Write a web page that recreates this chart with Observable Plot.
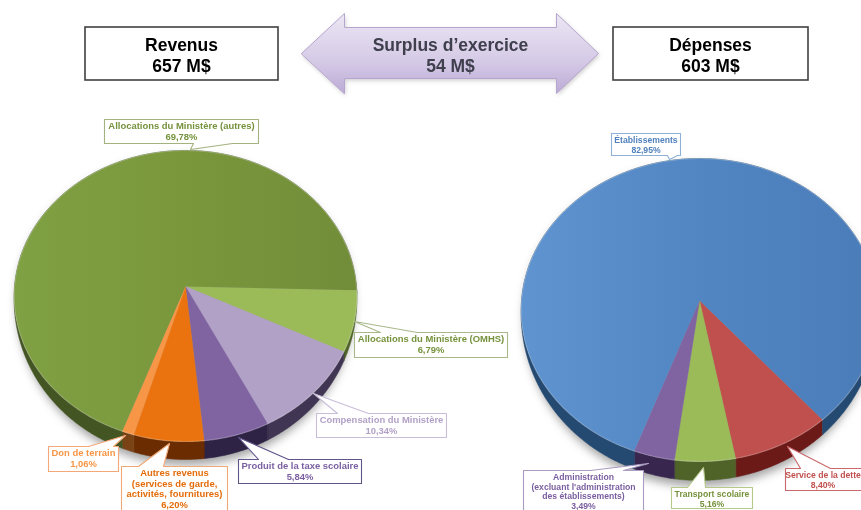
<!DOCTYPE html>
<html lang="fr"><head><meta charset="utf-8">
<script src="https://cdn.jsdelivr.net/npm/d3@7"></script>
<script src="https://cdn.jsdelivr.net/npm/@observablehq/plot@0.6"></script>
<style>html,body{margin:0;padding:0;background:#fff;overflow:hidden}svg{display:block}</style>
</head><body><div id="chart"></div>
<script>
// ---------- data ----------
const revenueCategories = ["Allocations du Ministère (OMHS)","Compensation du Ministère","Produit de la taxe scolaire","Autres revenus\n(services de garde,\nactivités, fournitures)","Don de terrain","Allocations du Ministère (autres)"];
const revenueValues = [6.79,10.34,5.84,6.20,1.06,69.78];
const expenseCategories = ["Service de la dette","Transport scolaire","Administration\n(excluant l'administration\ndes établissements)","Établissements"];
const expenseValues = [8.40,5.16,3.49,82.95];
const headerTitles = ["Revenus","Surplus d’exercice","Dépenses"];
const headerAmounts = ["657 M$","54 M$","603 M$"];

// ---------- styles ----------
const revenueFaces = ["#9bbb59","#b2a1c7","#8064a2","#ea730f","#f79646","url(#gGreen)"];
const revenueSides = ["#4f6228","#403552","#2f2345","#6a2c00","#7a4316","#435522"];
const revenueText  = ["#76923c","#b2a1c7","#7a5fa0","#e46c0a","#f79646","#76923c"];
const revenueEdge  = ["#a9b88a","#c9bdd9","#60548a","#f0a877","#f4a878","#a3b27e"];
const expenseFaces = ["#c0504d","#9bbb59","#8064a2","url(#gBlue)"];
const expenseSides = ["#6b1a18","#4f6228","#38264f","#244a72"];
const expenseText  = ["#c0504d","#76923c","#7a5fa0","#4f81bd"];
const expenseEdge  = ["#c9686a","#b5c98a","#a99cc0","#8fb0d8"];

// ---------- layout ----------
const leftPie  = {cx:185, cy:286, R:171, B:144.9, k:0.0653, start:91.5,  depth:18};
const rightPie = {cx:699, cy:300, R:178, B:150.9, k:0.0627, start:138.8, depth:19};
// each label: box [x0,y0,x1,y1], pointer [tipX,tipY,baseX0,baseX1]
const revenueLayout = [
 {box:[354,332,507,357], ptr:[354,321,380,417], edge:"top"},
 {box:[316,413,446,437], ptr:[313,393,337,368], edge:"top"},
 {box:[238,459,361,483], ptr:[238,437,258,288], edge:"top"},
 {box:[121,466,227,516], ptr:[169,443,138,163], edge:"top"},
 {box:[48,446,118,471],  ptr:[125,435,88,113],  edge:"top"},
 {box:[104,119,258,143], ptr:[190,149,193,232], edge:"bottom"}];
const expenseLayout = [
 {box:[785,468,880,490], ptr:[787,446,800,830], edge:"top", tx:822.5},
 {box:[671,487,752,508], ptr:[703,467,687,705], edge:"top"},
 {box:[523,470,643,516], ptr:[648,463,590,623], edge:"top"},
 {box:[611,133,680,155], ptr:[669,159,667,677], edge:"bottom"}];
const fmt = v => v.toFixed(2).replace(".", ",") + "%";
const rad = d3.scaleLinear().domain([0,360]).range([0,2*Math.PI]);

function project(p, deg, depth = 0) {
  const a = rad(deg), u = Math.sin(a), v = -Math.cos(a), w = 1 - p.k * v;
  const f = v >= 0 ? 0.15 + 0.85 * v : 0.15 * Math.max(0, 1 + 4 * v);
  return {x: p.cx + p.R * u / w, y: p.cy + p.B * v / w + depth * f};
}
function wedges(p, values) {
  const total = d3.sum(values); let a = p.start; const out = [];
  for (const v of values) { const b = a + v / total * 360; out.push([a, b]); a = b; }
  return out;
}
function arc(p, a0, a1, depth = 0) {
  const n = Math.max(2, Math.ceil((a1 - a0) * 2)), pts = [];
  for (let i = 0; i <= n; i++) pts.push(project(p, a0 + (a1 - a0) * i / n, depth));
  return pts;
}
const poly = (pts, o) => Plot.line(pts, {x:"x", y:"y", curve:"linear-closed", stroke:"none", ...o});

function pieMarks(p, values, faces, sides) {
  const ws = wedges(p, values), m = [];
  const sh = {...p, R:p.R - 3, B:p.B - 3, cy:p.cy + 3};
  m.push(poly(arc(sh, 0, 360, p.depth + 6), {fill:"#555", fillOpacity:0.55, imageFilter:"blur(5px)"}));
  ws.forEach(([a,b],i) => m.push(poly([...arc(p,a,b), ...arc(p,a,b,p.depth).reverse()], {fill:sides[i], stroke:sides[i], strokeWidth:0.5})));
  ws.forEach(([a,b],i) => m.push(poly([{x:p.cx,y:p.cy}, ...arc(p,a,b)], {fill:faces[i], stroke:faces[i].startsWith("url")?"none":faces[i], strokeWidth:0.4})));
  ws.forEach(([a,b]) => m.push(Plot.line(arc(p,a,b), {x:"x", y:"y", stroke:"#fff", strokeOpacity:0.22, strokeWidth:1.2})));
  return m;
}
function labelMarks(cats, values, layout, text, edge, size, leading) {
  const m = [];
  layout.forEach((l,i) => {
    const [x0,y0,x1,y1] = l.box, [tx,ty,b0,b1] = l.ptr;
    const pts = l.edge === "top"
      ? [{x:x0,y:y0},{x:b0,y:y0},{x:tx,y:ty},{x:b1,y:y0},{x:x1,y:y0},{x:x1,y:y1},{x:x0,y:y1}]
      : [{x:x0,y:y0},{x:x1,y:y0},{x:x1,y:y1},{x:b1,y:y1},{x:tx,y:ty},{x:b0,y:y1},{x:x0,y:y1}];
    m.push(poly(pts, {fill:"#fff", stroke:edge[i], strokeWidth:1.1}));
    const cx = l.tx ?? (x0 + x1) / 2;
    m.push(Plot.text([cats[i] + "\n" + fmt(values[i])], {x:()=>cx, y:()=>y0 + 2.3, text:d=>d, lineAnchor:"top", lineHeight:leading, fontSize:size, fontWeight:"bold", fontFamily:"Liberation Sans", fill:text[i], textAnchor:"middle", imageFilter:"blur(0.25px)"}));
  });
  return m;
}
const defs = () => {
  const s = d3.create("svg:defs");
  const add = (id, x1, x2, y1, y2, stops) => {
    const g = s.append("linearGradient").attr("id",id).attr("x1",x1).attr("x2",x2).attr("y1",y1).attr("y2",y2);
    stops.forEach(([o,c]) => g.append("stop").attr("offset",o).attr("stop-color",c));
  };
  add("gGreen","0","1","0","0",[[0,"#80a044"],[0.5,"#7a973c"],[1,"#728d39"]]);
  add("gBlue","0","1","0","0",[[0,"#6094d0"],[0.5,"#5186c3"],[1,"#4a7cb8"]]);
  add("gArrow","0","0","0","1",[[0,"#ebe6f3"],[0.6,"#d5cae6"],[1,"#bcaad6"]]);
  return s.node();
};

const boxes = [[85,27,278,80],[613,27,808,80]];
const arrow = [[301,53],[344,13],[344,27],[556,27],[556,13],[598,53],[556,93],[556,78],[344,78],[344,93]].map(([x,y])=>({x,y}));
const headerX = [181,450,710];
const headerFill = ["#000","#3f3f4d","#000"];
const title = i => Plot.text([headerTitles[i]+"\n"+headerAmounts[i]], {x:()=>headerX[i], y:()=>54.5, text:d=>d, lineHeight:1.15, fontSize:17.5, fontWeight:"bold", fontFamily:"Liberation Sans", fill:headerFill[i], imageFilter:"blur(0.25px)"});

document.getElementById("chart").append(Plot.plot({
  width:861, height:510, margin:0,
  style:{background:"#fff"},
  x:{domain:[0,861], range:[0,861], axis:null},
  y:{domain:[0,510], range:[0,510], axis:null},
  marks:[
    defs,
    ...pieMarks(leftPie, revenueValues, revenueFaces, revenueSides),
    ...pieMarks(rightPie, expenseValues, expenseFaces, expenseSides),
    ...labelMarks(revenueCategories, revenueValues, revenueLayout, revenueText, revenueEdge, 9.45, 1.12),
    ...labelMarks(expenseCategories, expenseValues, expenseLayout, expenseText, expenseEdge, 8.65, 1.13),
    poly(arrow.map(d=>({x:d.x+1,y:d.y+2})), {fill:"#999", fillOpacity:0.5, imageFilter:"blur(2px)"}),
    poly(arrow, {fill:"url(#gArrow)", stroke:"#b7a5cf", strokeWidth:1}),
    Plot.rect(boxes, {x1:d=>d[0], y1:d=>d[1], x2:d=>d[2], y2:d=>d[3], fill:"#fff", stroke:"#404040", strokeWidth:1.6}),
    title(0), title(1), title(2)
  ]
}));
</script></body></html>
